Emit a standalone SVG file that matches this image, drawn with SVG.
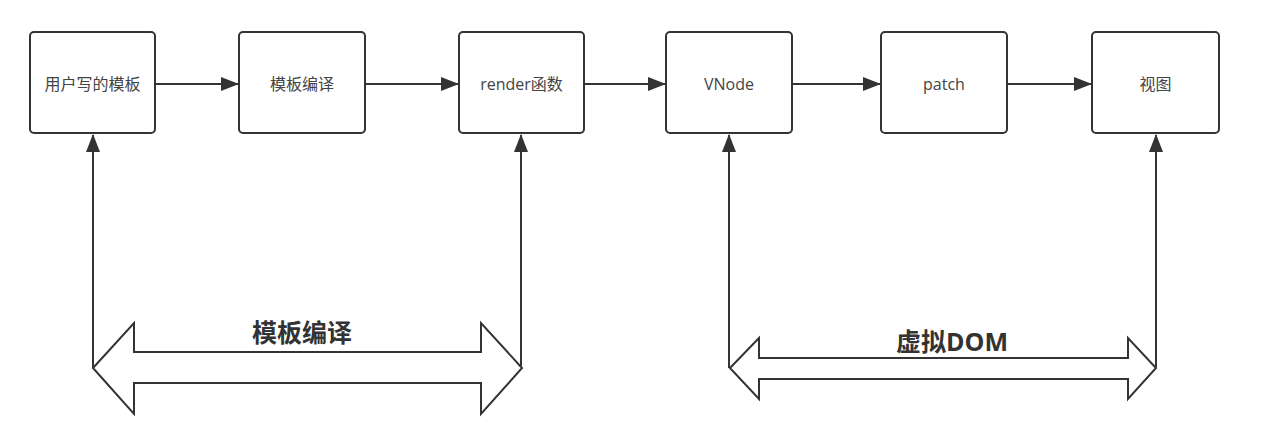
<svg xmlns="http://www.w3.org/2000/svg" width="1280" height="432" viewBox="0 0 1280 432">
<style>
.box{fill:#fff;stroke:#333;stroke-width:2}
.lbl{font-family:"Open Sans","Noto Sans CJK SC",sans-serif;font-size:16px;fill:#444;text-anchor:middle}
.big{font-family:"Open Sans","Noto Sans CJK SC",sans-serif;font-size:25px;font-weight:bold;fill:#333;text-anchor:middle}
.ln{fill:none;stroke:#333;stroke-width:2}
.dbl{fill:#fff;stroke:#333;stroke-width:2;stroke-linejoin:miter}
</style>
<defs>
<marker id="ah" markerWidth="18" markerHeight="14" refX="17" refY="7" orient="auto" markerUnits="userSpaceOnUse">
<path d="M0,0 L18,7 L0,14 Z" fill="#333"/>
</marker>
</defs>
<rect width="1280" height="432" fill="#fff"/>
<g id="n1"><rect class="box" x="30" y="32" width="125" height="101" rx="4"/><text class="lbl" x="92.5" y="90">用户写的模板</text></g>
<g id="n2"><rect class="box" x="239" y="32" width="126" height="101" rx="4"/><text class="lbl" x="302" y="90">模板编译</text></g>
<g id="n3"><rect class="box" x="459" y="32" width="125" height="101" rx="4"/><text class="lbl" x="521.5" y="90">render函数</text></g>
<g id="n4"><rect class="box" x="666" y="32" width="126" height="101" rx="4"/><text class="lbl" x="729" y="90">VNode</text></g>
<g id="n5"><rect class="box" x="881" y="32" width="126" height="101" rx="4"/><text class="lbl" x="944" y="90">patch</text></g>
<g id="n6"><rect class="box" x="1092" y="32" width="127" height="101" rx="4"/><text class="lbl" x="1155.5" y="90">视图</text></g>
<g id="connectors">
<line class="ln" x1="156" y1="84" x2="238" y2="84" marker-end="url(#ah)"/>
<line class="ln" x1="366" y1="84" x2="458" y2="84" marker-end="url(#ah)"/>
<line class="ln" x1="585" y1="84" x2="665" y2="84" marker-end="url(#ah)"/>
<line class="ln" x1="793" y1="84" x2="880" y2="84" marker-end="url(#ah)"/>
<line class="ln" x1="1008" y1="84" x2="1091" y2="84" marker-end="url(#ah)"/>
<line class="ln" x1="93" y1="368" x2="93" y2="135" marker-end="url(#ah)"/>
<line class="ln" x1="521" y1="366" x2="521" y2="135" marker-end="url(#ah)"/>
<line class="ln" x1="729" y1="368" x2="729" y2="135" marker-end="url(#ah)"/>
<line class="ln" x1="1156" y1="367" x2="1156" y2="135" marker-end="url(#ah)"/>
</g>
<g id="span1">
<path class="dbl" d="M93,368 L134,323 L134,352 L481,352 L481,323 L522,368 L481,414 L481,383 L134,383 L134,414 Z"/>
<text class="big" x="302" y="342">模板编译</text>
</g>
<g id="span2">
<path class="dbl" d="M730,368 L759,338 L759,358 L1128,358 L1128,338 L1156,368 L1128,399 L1128,379 L759,379 L759,399 Z"/>
<text class="big" x="952" y="351">虚拟DOM</text>
</g>
</svg>
